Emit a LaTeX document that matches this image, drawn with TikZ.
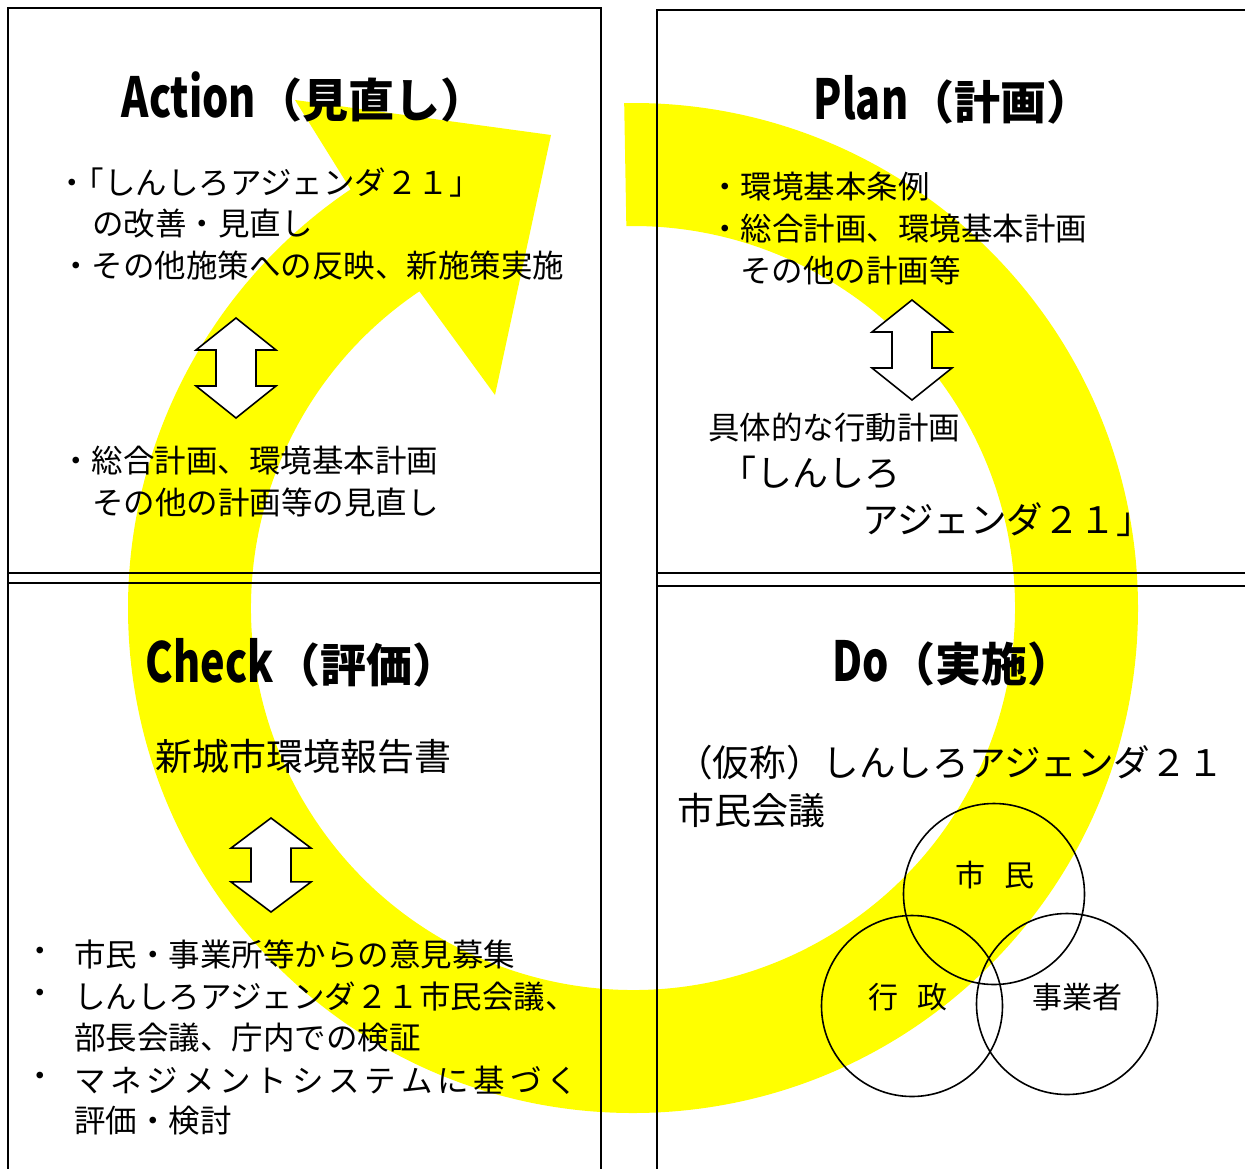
\documentclass[tikz,border=0pt]{standalone}
\usepackage{fontspec}
\setmainfont{Noto Sans CJK JP}
\usetikzlibrary{calc}
\definecolor{ylw}{RGB}{255,255,0}
\newcommand{\lat}[1]{\scalebox{0.9}[1.2]{#1}}
\tikzset{
  box/.style={draw=black, line width=1.6pt},
  ring/.style={fill=ylw, draw=none},
  ttl/.style={font=\fontsize{46}{50}\selectfont\bfseries, inner sep=0pt, anchor=center},
  body/.style={font=\fontsize{31.5}{38}\selectfont, inner sep=0pt, anchor=west},
  bigtxt/.style={font=\fontsize{36}{40}\selectfont, inner sep=0pt, anchor=west},
  gothic/.style={font=\fontsize{37}{42}\selectfont, inner sep=0pt, anchor=west},
  clabel/.style={font=\fontsize{30}{34}\selectfont, inner sep=0pt, anchor=center},
  venn/.style={circle, draw=black, line width=1.6pt, minimum size=181pt, inner sep=0pt},
  dbl/.style={draw=black, fill=white, line width=1.6pt, line join=miter},
  pics/dblarrow/.style={code={
    \draw[dbl] (0,-50) -- (40,-18) -- (20,-18) -- (20,18) -- (40,18) -- (0,50)
       -- (-40,18) -- (-20,18) -- (-20,-18) -- (-40,-18) -- cycle;
  }}
}
\begin{document}
\begin{tikzpicture}[x=1pt,y=-1pt]
\useasboundingbox (0,0) rectangle (1245,1168);
\fill[white] (0,0) rectangle (1245,1168);
% yellow cycle arrow
\coordinate (C) at (633,608);
\fill[ring] ($(C)+(-91:505)$) arc[start angle=-91, end angle=236, radius=505]
  -- (295,100) -- (551,135) -- (495,395)
  -- ($(C)+(236:382)$) arc[start angle=236, end angle=-91, radius=382] -- cycle;
% boxes
\draw[box] (8,8) rectangle (601,583);
\draw[box] (8,573) rectangle (601,1185);
\draw[box] (657,10) rectangle (1265,586);
\draw[box] (657,573) rectangle (1265,1185);
% double arrows
\pic at (236,368) {dblarrow};
\pic at (912,350) {dblarrow};
\pic[yscale=0.94] at (271,865) {dblarrow};
% Action
\node[ttl] (actT) at (304,97) {\lat{Action}（見直し）};
\node[body] (a1) at (56,183) {・\kern-15pt「しんしろアジェンダ２１」};
\node[body] (a2) at (92,224) {の改善・見直し};
\node[body] (a3) at (60,266) {・その他施策への反映、新施策実施};
\node[body] (a4) at (60,461) {・総合計画、環境基本計画};
\node[body] (a5) at (92,502) {その他の計画等の見直し};
% Plan
\node[ttl] (plT) at (953,100) {\lat{Plan}（計画）};
\node[body] (p1) at (709,187) {・環境基本条例};
\node[body] (p2) at (709,229) {・総合計画、環境基本計画};
\node[body] (p3) at (740,270) {その他の計画等};
\node[body] (p4) at (708,428) {具体的な行動計画};
\node[bigtxt] (p5) at (720,472) {「しんしろ};
\node[bigtxt, font=\fontsize{36.5}{40}\selectfont] (p6) at (862,520) {アジェンダ２１」};
% Check
\node[ttl] (chT) at (302,663) {\lat{Check}（評価）};
\node[gothic] (ch1) at (155,757) {新城市環境報告書};
\node[body] (cb1) at (24,955) {・};
\node[body] (c1) at (74,955) {市民・事業所等からの意見募集};
\node[body] (cb2) at (24,997) {・};
\node[body] (c2) at (74,997) {しんしろアジェンダ２１市民会議、};
\node[body] (c3) at (74,1038) {部長会議、庁内での検証};
\node[body] (cb3) at (24,1080) {・};
\node[body] (c4) at (74,1080) {\makebox[504pt][l]{マ\hfill ネ\hfill ジ\hfill メ\hfill ン\hfill ト\hfill シ\hfill ス\hfill テ\hfill ム\hfill に\hfill 基\hfill づ\hfill く}};
\node[body] (c5) at (74,1121) {評価・検討};
% Do
\node[ttl] (doT) at (953,663) {\lat{Do}（実施）};
\node[bigtxt, font=\fontsize{36.6}{40}\selectfont] (d1) at (676,763) {（仮称）しんしろアジェンダ２１};
\node[gothic] (d2) at (677,810) {市民会議};
\node[venn] (vA) at (994,894) {};
\node[venn] (vB) at (912,1006) {};
\node[venn] (vC) at (1067,1004) {};
\node[clabel] (lA) at (995,875) {市\hspace{20pt}民};
\node[clabel] (lB) at (908,997) {行\hspace{20pt}政};
\node[clabel] (lC) at (1077,997) {事業者};
\end{tikzpicture}
\end{document}
